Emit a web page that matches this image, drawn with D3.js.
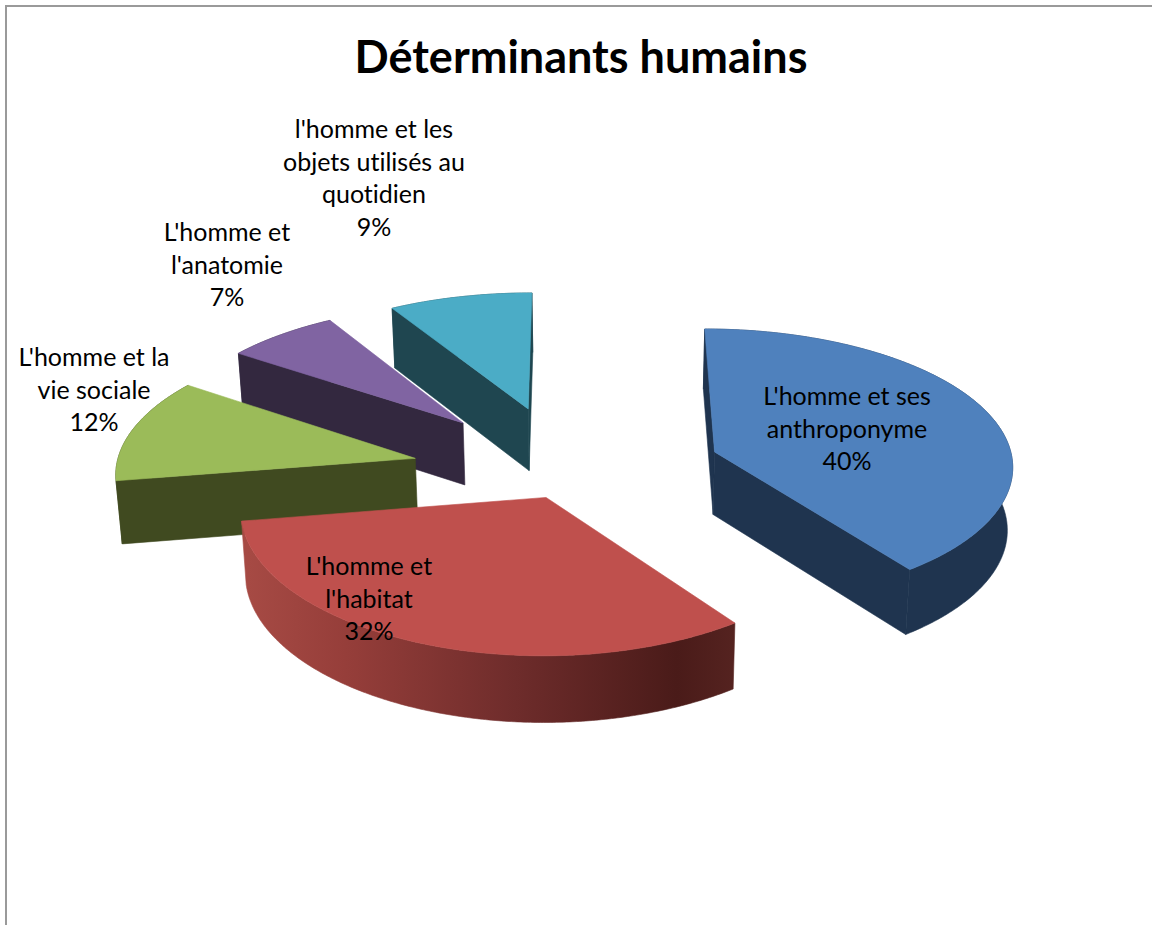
<!DOCTYPE html>
<html>
<head>
<meta charset="utf-8">
<script src="https://cdn.jsdelivr.net/npm/d3@7"></script>
<style>
  html, body { margin: 0; background: #fff; }
  svg { display: block; }
  text { font-family: Lato, "Open Sans", sans-serif; fill: #000; font-variant-ligatures: none; }
</style>
</head>
<body>
<div id="canvas"></div>
<script>
const chartTitle = "Déterminants humains";
const categories = ["L'homme et ses anthroponyme", "L'homme et l'habitat", "L'homme et la vie sociale", "L'homme et l'anatomie", "l'homme et les objets utilisés au quotidien"];
// the labels show them rounded
const shares = [40, 32.4, 12.2, 6.8, 8.6];
const labelLines = [
  ["L'homme et ses", "anthroponyme", "40%"],
  ["L'homme et", "l'habitat", "32%"],
  ["L'homme et la", "vie sociale", "12%"],
  ["L'homme et", "l'anatomie", "7%"],
  ["l'homme et les", "objets utilisés au", "quotidien", "9%"]
];
const topColors = ["#4f81bd", "#bf504d", "#9bbb59", "#8064a2", "#4bacc6"];
const wallColors = ["#1f344f", "#5a2320", "#404a20", "#33283f", "#1f4650"];
const explode = [157, 54, 157, 157, 153];
const labelX = [847, 369, 94, 227, 374];
const labelY = [405, 575, 366, 241, 138];

const width = 1152, height = 925;
const cx = 567, cy = 474;
const R = 300, squash = 0.462;
const perspY = 0.095, perspX = 0.08, vanishX = 580;
const thick = 63;

const svg = d3.select("#canvas").append("svg").attr("width", width).attr("height", height);

// frame of the chart, cut by the window on the right and bottom
svg.append("path")
  .attr("d", `M6,${height}V6H${width}`)
  .attr("fill", "none").attr("stroke", "#9a9a9a").attr("stroke-width", 2);

const defs = svg.append("defs");
const redWall = defs.append("linearGradient").attr("id", "redWall")
  .attr("gradientUnits", "userSpaceOnUse")
  .attr("x1", 248).attr("x2", 735).attr("y1", 0).attr("y2", 0);
[[0, "#a64a44"], [0.2, "#963e3a"], [0.55, "#6e2c2b"], [0.88, "#4a1b19"], [1, "#552320"]]
  .forEach(s => redWall.append("stop").attr("offset", s[0]).attr("stop-color", s[1]));

const pie = d3.pie().sort(null).value(d => d);
const slices = pie(shares);

// ground plane to screen: gz is depth, bigger is further back
function project(gx, gz) {
  const sx = 1 / (1 + perspX * gz / R);
  const sy = 1 / (1 + perspY * gz / R);
  return [vanishX + (cx + gx - vanishX) * sx, cy - squash * gz * sy];
}

function lower(p) {
  const drop = thick + (p[1] - cy) * 0.02;
  return [p[0] - (p[0] - 600) * 0.013, p[1] + drop];
}

const line = d3.line();

function rim(o, a0, a1) {
  const n = Math.ceil((a1 - a0) / 0.01);
  return d3.range(n + 1).map(i => {
    const a = a0 + (a1 - a0) * i / n;
    return project(o[0] + R * Math.sin(a), o[1] + R * Math.cos(a));
  });
}

// the wall under an edge shows when the edge's outward side points down the screen
function faceShows(a, b, inside) {
  let nx = -(b[1] - a[1]), ny = b[0] - a[0];
  if (nx * (inside[0] - a[0]) + ny * (inside[1] - a[1]) > 0) { nx = -nx; ny = -ny; }
  return ny > 0;
}

// painter's order: back slices first, red goes last as it lies over the green wall
const order = [4, 3, 2, 0, 1];

order.forEach(i => {
  const d = slices[i];
  const mid = (d.startAngle + d.endAngle) / 2;
  const ground = [explode[i] * Math.sin(mid), explode[i] * Math.cos(mid)];
  const apex = project(ground[0], ground[1]);
  const edge = rim(ground, d.startAngle, d.endAngle);
  const inside = edge[Math.floor(edge.length / 2)];
  const g = svg.append("g").attr("class", "slice");
  const wallFill = i === 1 ? "url(#redWall)" : wallColors[i];

  // outer wall
  g.append("path")
    .attr("d", line(edge.concat(edge.map(lower).reverse())) + "Z")
    .attr("fill", wallFill).attr("stroke", wallFill).attr("stroke-width", 0.6);

  // cut faces, only those turned to the viewer
  [edge[0], edge[edge.length - 1]].forEach(p => {
    if (!faceShows(apex, p, inside)) return;
    g.append("path")
      .attr("d", line([apex, p, lower(p), lower(apex)]) + "Z")
      .attr("fill", wallFill).attr("stroke", wallFill).attr("stroke-width", 0.6);
  });

  // top
  g.append("path")
    .attr("d", line([apex].concat(edge)) + "Z")
    .attr("fill", topColors[i]).attr("stroke", topColors[i]).attr("stroke-width", 0.6);
});

svg.append("text")
  .attr("x", 581).attr("y", 73)
  .attr("text-anchor", "middle")
  .attr("font-size", 45).attr("font-weight", 700)
  .text(chartTitle);

labelLines.forEach((lines, i) => {
  const t = svg.append("text")
    .attr("text-anchor", "middle")
    .attr("font-size", 25);
  lines.forEach((s, k) => {
    t.append("tspan").attr("x", labelX[i]).attr("y", labelY[i] + k * 32.5).text(s);
  });
});
</script>
</body>
</html>
